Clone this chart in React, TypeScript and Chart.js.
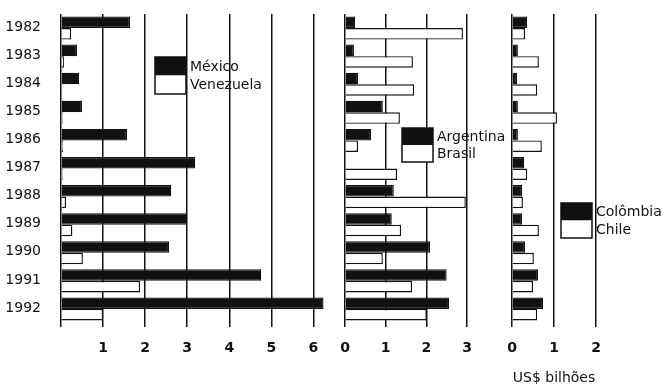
import React, { useEffect, useRef } from "react";
import { Chart, registerables } from "chart.js";

Chart.register(...registerables);

// ---------- data ----------
const years = ["1982", "1983", "1984", "1985", "1986", "1987", "1988", "1989", "1990", "1991", "1992"];
const mexico = [1.64, 0.38, 0.43, 0.5, 1.57, 3.19, 2.62, 3.0, 2.57, 4.76, 6.24];
const venezuela = [0.24, 0.07, 0.03, 0.04, 0.05, 0.04, 0.12, 0.27, 0.52, 1.88, 1.0];
const argentina = [0.25, 0.22, 0.32, 0.93, 0.64, 0, 1.2, 1.15, 2.09, 2.5, 2.56];
const brasil = [2.9, 1.67, 1.7, 1.35, 0.32, 1.28, 2.97, 1.38, 0.93, 1.65, 2.01];
const colombia = [0.36, 0.14, 0.12, 0.14, 0.14, 0.29, 0.24, 0.24, 0.31, 0.62, 0.74];
const chile = [0.31, 0.64, 0.6, 1.07, 0.71, 0.36, 0.26, 0.64, 0.52, 0.5, 0.6];
const ticksMV = [0, 1, 2, 3, 4, 5, 6];
const ticksAB = [0, 1, 2, 3];
const ticksCC = [0, 1, 2];
const unitTitle = "US$ bilhões";

const W = 667;
const H = 388;
const INK = "#111111";
const FONT = "'DejaVu Sans', 'Liberation Sans', Arial, sans-serif";

const boxLegend = {
  id: "boxLegend",
  afterDraw(chart: any, _args: any, opts: any) {
    const { ctx } = chart;
    const ds = chart.data.datasets;
    const { x, y, w, h } = opts;
    ctx.save();
    ctx.fillStyle = ds[0].backgroundColor;
    ctx.fillRect(x, y, w, h);
    ctx.fillStyle = ds[1].backgroundColor;
    ctx.fillRect(x, y + h, w, h);
    ctx.strokeStyle = INK;
    ctx.lineWidth = 1.5;
    ctx.strokeRect(x, y, w, 2 * h);
    ctx.font = "14px " + FONT;
    ctx.fillStyle = INK;
    ctx.textBaseline = "middle";
    ctx.textAlign = "left";
    ctx.fillText(ds[0].label, x + w + 4, y + h / 2 + 1);
    ctx.fillText(ds[1].label, x + w + 4, y + h * 1.5 + 1);
    ctx.restore();
  },
};

type PanelProps = {
  label1: string;
  label2: string;
  data1: number[];
  data2: number[];
  ticks: number[];
  max: number;
  padLeft: number;
  padRight: number;
  showYears: boolean;
  hideZero: boolean;
  title?: string;
  legend: { x: number; y: number; w: number; h: number };
};

function Panel(p: PanelProps) {
  const ref = useRef<HTMLCanvasElement | null>(null);
  useEffect(() => {
    if (!ref.current) return;
    const chart = new Chart(ref.current, {
      type: "bar",
      data: {
        labels: years,
        datasets: [
          {
            label: p.label1,
            data: p.data1,
            backgroundColor: INK,
            borderColor: INK,
            borderWidth: 1.2,
            categoryPercentage: 0.82,
            barPercentage: 1,
          },
          {
            label: p.label2,
            data: p.data2,
            backgroundColor: "#ffffff",
            borderColor: INK,
            borderWidth: 1.4,
            categoryPercentage: 0.82,
            barPercentage: 1,
          },
        ],
      },
      options: {
        indexAxis: "y",
        responsive: false,
        animation: false,
        layout: { padding: { left: p.padLeft, right: p.padRight, top: 14, bottom: 0 } },
        plugins: {
          legend: { display: false },
          tooltip: { enabled: false },
          boxLegend: p.legend,
        } as any,
        scales: {
          x: {
            type: "linear",
            min: 0,
            max: p.max,
            afterBuildTicks: (axis: any) => {
              axis.ticks = p.ticks.map((v) => ({ value: v }));
            },
            afterFit: (axis: any) => {
              axis.height = 65;
              axis.paddingLeft = 0;
              axis.paddingRight = 0;
            },
            grid: {
              display: true,
              drawOnChartArea: true,
              drawTicks: true,
              tickLength: 4,
              color: INK,
              lineWidth: 1.5,
            },
            border: { display: false },
            ticks: {
              padding: 13,
              color: INK,
              font: { family: FONT, size: 14, weight: "bold" },
              callback: (v: any) => (p.hideZero && Number(v) === 0 ? "" : String(v)),
            },
            title: {
              display: !!p.title,
              text: p.title || "",
              color: INK,
              font: { family: FONT, size: 14 },
              padding: { top: 0, bottom: 1 },
            },
          },
          y: {
            type: "category",
            display: p.showYears,
            afterFit: (axis: any) => {
              axis.width = p.showYears ? 61 : 0;
              axis.paddingTop = 0;
              axis.paddingBottom = 0;
            },
            grid: { display: false, drawTicks: false },
            border: { display: false },
            ticks: {
              padding: 20,
              labelOffset: -1,
              color: INK,
              font: { family: FONT, size: 14 },
            },
          },
        },
      } as any,
      plugins: [boxLegend as any],
    });
    return () => chart.destroy();
  }, []);
  return (
    <canvas
      ref={ref}
      width={W}
      height={H}
      style={{ position: "absolute", left: 0, top: 0, width: W, height: H }}
    />
  );
}

export default function App() {
  return (
    <div
      style={{
        position: "fixed",
        left: 0,
        top: 0,
        width: W,
        height: H,
        background: "#ffffff",
        overflow: "hidden",
      }}
    >
      <Panel
        label1="México"
        label2="Venezuela"
        data1={mexico}
        data2={venezuela}
        ticks={ticksMV}
        max={6.3}
        padLeft={0}
        padRight={341}
        showYears={true}
        hideZero={true}
        legend={{ x: 155, y: 57, w: 31, h: 18.5 }}
      />
      <Panel
        label1="Argentina"
        label2="Brasil"
        data1={argentina}
        data2={brasil}
        ticks={ticksAB}
        max={3}
        padLeft={345}
        padRight={200}
        showYears={false}
        hideZero={false}
        legend={{ x: 402, y: 128, w: 31, h: 17 }}
      />
      <Panel
        label1="Colômbia"
        label2="Chile"
        data1={colombia}
        data2={chile}
        ticks={ticksCC}
        max={2}
        padLeft={512}
        padRight={71}
        showYears={false}
        hideZero={false}
        title={unitTitle}
        legend={{ x: 561, y: 203, w: 31, h: 17.5 }}
      />
    </div>
  );
}
